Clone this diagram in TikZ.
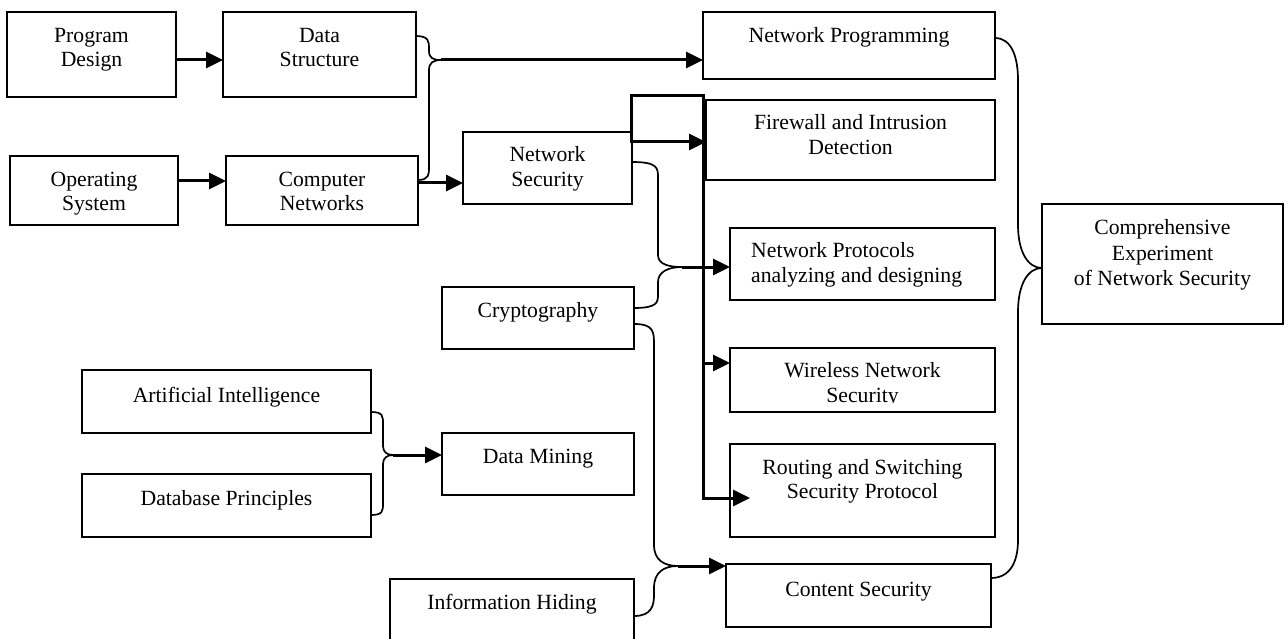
\documentclass[tikz,border=0pt]{standalone}
\usepackage{fontspec}
\setmainfont{Liberation Serif}
\usetikzlibrary{arrows.meta}
\newcommand\mkbox[5]{%
  \node[box, minimum width={(#4-#2)*1pt}, minimum height={(#5-#3)*1pt}] (#1) at ({(#2+#4)/2},{(#3+#5)/2}) {};}
\begin{document}
\begin{tikzpicture}[x=1pt,y=-1pt,
  box/.style={draw, line width=1.8pt, inner sep=0pt, outer sep=0pt},
  lbl/.style={anchor=base, inner sep=0pt, font=\fontsize{21.7}{25}\selectfont},
  lbll/.style={lbl, anchor=base west},
  thk/.style={line width=3pt, -{Triangle[length=17pt,width=16pt]}},
  crv/.style={line width=1.7pt},
]
\useasboundingbox (0,0) rectangle (1285,639);
\fill[white] (0,0) rectangle (1285,639);

% boxes
\mkbox{pd}{7}{12}{176}{97}
\mkbox{ds}{223}{12}{416}{97}
\mkbox{os}{10}{156}{178}{225}
\mkbox{cn}{226}{156}{418}{225}
\mkbox{ns}{463}{132}{632}{204}
\mkbox{np}{703}{12}{995}{79}
\mkbox{fw}{706}{100}{995}{180}
\mkbox{npr}{730}{228}{995}{300}
\mkbox{wl}{730}{348}{995}{412}
\mkbox{rs}{730}{444}{995}{537}
\mkbox{cs}{726}{564}{991}{627}
\mkbox{ce}{1042}{204}{1283}{324}
\mkbox{cr}{442}{287}{634}{349}
\mkbox{ai}{82}{370}{371}{433}
\mkbox{db}{82}{474}{371}{537}
\mkbox{dm}{442}{433}{634}{495}
\mkbox{ih}{390}{579}{634}{660}

% labels
\node[lbl] at (91.5,43) {Program};
\node[lbl] at (91.5,67) {Design};
\node[lbl] at (319.5,43) {Data};
\node[lbl] at (319.5,67) {Structure};
\node[lbl] at (94,187) {Operating};
\node[lbl] at (94,211) {System};
\node[lbl] at (322,187) {Computer};
\node[lbl] at (322,211) {Networks};
\node[lbl] at (547.5,162) {Network};
\node[lbl] at (547.5,187) {Security};
\node[lbl] at (849,43) {Network Programming};
\node[lbl] at (850.5,130) {Firewall and Intrusion};
\node[lbl] at (850.5,155) {Detection};
\node[lbll] at (751,257) {Network Protocols};
\node[lbll] at (751,282) {analyzing and designing};
\node[lbl] at (862.5,377) {Wireless Network};
\begin{scope}
  \clip (730,348) rectangle (995,402.5);
  \node[lbl] at (862.5,402) {Security};
\end{scope}
\node[lbl] at (862.5,474) {Routing and Switching};
\node[lbl] at (862.5,498) {Security Protocol};
\node[lbl] at (858.5,596) {Content Security};
\node[lbl] at (1162.5,235) {Comprehensive};
\node[lbl] at (1162.5,260) {Experiment};
\node[lbl] at (1162.5,285) {of Network Security};
\node[lbl] at (538,317) {Cryptography};
\node[lbl] at (226.5,402) {Artificial Intelligence};
\node[lbl] at (226.5,505) {Database Principles};
\node[lbl] at (538,463) {Data Mining};
\node[lbl] at (512,609) {Information Hiding};

% straight arrows
\draw[thk] (pd.east |- 0,60) -- (ds.west |- 0,60);
\draw[thk] (os.east |- 0,181) -- (cn.west |- 0,181);
\draw[thk] (cn.east |- 0,183) -- (ns.west |- 0,183);

% brace 1: Data Structure + Computer Networks -> Network Programming
\coordinate (j1) at (441,60);
\draw[crv] (ds.east |- 0,36) .. controls (429,36) and (429,42) .. (429,48) -- (429,51) .. controls (429,58) and (433,60) .. (j1);
\draw[crv] (cn.east |- 0,180) .. controls (429,180) and (429,174) .. (429,168) -- (429,70) .. controls (429,63) and (433,60) .. (j1);
\draw[thk] (j1) -- (j1 -| np.west);

% Network Security trunk
\coordinate (t1) at (631,143);
\coordinate (t2) at (631,96);
\coordinate (t3) at (703,96);
\coordinate (t4) at (703,498);
\coordinate (t5) at (750,498);
\draw[thk] (t1) -- (t2) -- (t3) -- (t4) -- (t5);
\draw[thk] (ns.east |- 0,142) -- (fw.west |- 0,142);
\draw[thk] (t3 |- 0,363) -- (wl.west |- 0,363);

% brace 2: Network Security + Cryptography -> Network Protocols
\coordinate (j2) at (682,267);
\draw[crv] (ns.east |- 0,162) .. controls (658,162) and (658,168) .. (658,178) -- (658,255) .. controls (658,264) and (668,267) .. (j2);
\draw[crv] (cr.east |- 0,308) .. controls (658,308) and (658,302) .. (658,294) -- (658,282) .. controls (658,272) and (668,267) .. (j2);
\draw[thk] (j2) -- (j2 -| npr.west);

% brace 3: Cryptography + Information Hiding -> Content Security
\coordinate (j3) at (678,566);
\draw[crv] (cr.east |- 0,324) .. controls (654,324) and (654,332) .. (654,345) -- (654,545) .. controls (654,560) and (664,566) .. (j3);
\draw[crv] (ih.east |- 0,616) .. controls (652,616) and (654,605) .. (654,595) -- (654,588) .. controls (654,572) and (664,566) .. (j3);
\draw[thk] (j3) -- (j3 -| cs.west);

% brace 4: AI + Database -> Data Mining
\coordinate (j4) at (393,455);
\draw[crv] (ai.east |- 0,412) .. controls (383,412) and (383,416) .. (383,424) -- (383,446) .. controls (383,452) and (387,455) .. (j4);
\draw[crv] (db.east |- 0,515) .. controls (383,515) and (383,511) .. (383,503) -- (383,464) .. controls (383,458) and (387,455) .. (j4);
\draw[thk] (j4) -- (j4 -| dm.west);

% brace 5: right -> Comprehensive Experiment
\coordinate (j5) at (ce.west |- 0,268);
\draw[crv] (np.east |- 0,38) .. controls (1012,38) and (1018,58) .. (1018,80) -- (1018,225) .. controls (1018,252) and (1028,268) .. (j5);
\draw[crv] (cs.east |- 0,578) .. controls (1010,578) and (1018,562) .. (1018,540) -- (1018,312) .. controls (1018,284) and (1028,268) .. (j5);
\end{tikzpicture}
\end{document}
